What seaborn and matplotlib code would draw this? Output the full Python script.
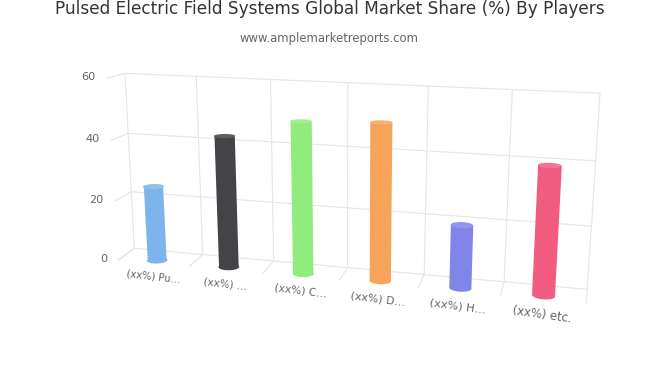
import numpy as np
import pandas as pd
import matplotlib
matplotlib.use("Agg")
import matplotlib.pyplot as plt
from matplotlib.colors import to_rgb
from matplotlib.transforms import Transform
import seaborn as sns

# ---- data ----
labels = ["(xx%) Pu…", "(xx%) …", "(xx%) C…", "(xx%) D…", "(xx%) H…", "(xx%) etc."]
shares = [25, 43, 49, 50, 20, 40]
colors = ["#7cb5ec", "#434348", "#90ed7d", "#f7a35c", "#8085e9", "#f15c80"]
y_ticks = [0, 20, 40, 60]
title = "Pulsed Electric Field Systems Global Market Share (%) By Players"
subtitle = "www.amplemarketreports.com"

# ---- camera: plot box corners in image pixels ----
U_MAX, V_MAX = 6.0, 60.0
BACK = [(134.3, 248.3), (587.3, 289.3), (600.0, 93.3), (125.0, 73.3)]
FRONT = [(118.3, 260.0), (586.0, 303.0), (598.0, 101.0), (107.0, 78.0)]
BAR_DEPTH = 0.75
CAP_DEPTH = 0.27
BAR_WIDTH = 0.27


def homography(dst):
    src = [(0, 0), (U_MAX, 0), (U_MAX, V_MAX), (0, V_MAX)]
    A, b = [], []
    for (s, t), (x, y) in zip(src, dst):
        A.append([s, t, 1, 0, 0, 0, -s * x, -t * x]); b.append(x)
        A.append([0, 0, 0, s, t, 1, -s * y, -t * y]); b.append(y)
    return np.append(np.linalg.solve(np.array(A, float), np.array(b, float)), 1).reshape(3, 3)


H_BACK, H_FRONT = homography(BACK), homography(FRONT)


def _apply(H, u, v):
    q = H @ np.vstack([u, v, np.ones_like(u)])
    return q[0] / q[2], q[1] / q[2]


def project(u, v, w):
    u, v = np.broadcast_arrays(np.atleast_1d(np.asarray(u, float)), np.atleast_1d(np.asarray(v, float)))
    bx, by = _apply(H_BACK, u, v)
    fx, fy = _apply(H_FRONT, u, v)
    return bx + (fx - bx) * w, by + (fy - by) * w


class DepthPlane(Transform):
    """Category position + value -> image pixels on the plane at depth w."""
    input_dims = output_dims = 2
    is_separable = False
    has_inverse = False

    def __init__(self, w):
        super().__init__()
        self.w = w

    def transform_non_affine(self, values):
        values = np.asarray(values, float)
        x, y = project(values[:, 0] + 0.5, values[:, 1], self.w)
        return np.column_stack([x, y])


def lighter(c, f):
    r = np.array(to_rgb(c))
    return tuple(r + (1 - r) * f)


# ---- figure ----
sns.set_theme(style="white")
plt.rcParams["font.family"] = ["DejaVu Sans"]
fig = plt.figure(figsize=(6.6, 3.8), dpi=100, facecolor="white")
ax = fig.add_axes([0, 0, 1, 1])

df = pd.DataFrame({"label": labels, "share": shares})
sns.barplot(data=df, x="label", y="share", hue="label", palette=colors, hue_order=labels,
            order=labels, width=BAR_WIDTH, saturation=1, legend=False, ax=ax)
ax.set_xlim(0, 660)
ax.set_ylim(380, 0)
ax.set_axis_off()

# ---- walls ----
GRID = "#e6e6e6"
grid_kw = dict(color=GRID, lw=0.85, zorder=0.5, solid_capstyle="round", snap=False)
for v in y_ticks:
    vs = np.array([v, v], float)
    ax.plot(*project([0, U_MAX], vs, 0), **grid_kw)
    ax.plot(*project([0, 0], vs, [0, 1]), **grid_kw)
for u in range(int(U_MAX) + 1):
    ax.plot(*project([u, u], [0, V_MAX], 0), **grid_kw)
    ax.plot(*project([u, u], [0, 0], [0, 1]), **grid_kw)

# ---- cylinders from the seaborn bars ----
t = np.linspace(0, 2 * np.pi, 80)
plane = DepthPlane(BAR_DEPTH) + ax.transData
for bar in ax.patches:
    c = bar.get_facecolor()
    bar.set_transform(plane)
    bar.set_zorder(3)
    bar.set_edgecolor("none")
    bar.set_linewidth(0)
    bar.set_snap(False)
    bar.set_clip_on(False)
    u0 = bar.get_x() + bar.get_width() / 2 + 0.5
    r = bar.get_width() / 2
    eu = u0 + r * np.cos(t)
    ew = BAR_DEPTH + CAP_DEPTH * np.sin(t)
    px, py = project(eu, np.zeros_like(t), ew)
    ax.fill(px, py, color=c[:3], lw=0, zorder=2.5)
    px, py = project(eu, np.full_like(t, bar.get_height()), ew)
    ax.fill(px, py, color=lighter(c[:3], 0.14), lw=0, zorder=4)

# ---- text ----
for v in y_ticks:
    x, y = project([0], [v], 1)
    ax.text(x[0] - 11, y[0] - 1.5, str(v), ha="right", va="center", fontsize=8.2, color="#666666")

for i, lab in enumerate(labels):
    x, y = project([i + 0.5], [0], 1)
    ax.text(x[0] - i * 0.25, y[0] + 13.5 + i * 0.5, lab, ha="center", va="center",
            rotation=-(6.6 + i * 0.3), rotation_mode="anchor",
            fontsize=7.2 + i * 0.24, color="#666666")

fig.text(329.5 / 660, 1 - 14 / 380, title, ha="center", va="baseline", fontsize=12.2, color="#333333")
fig.text(329 / 660, 1 - 42 / 380, subtitle, ha="center", va="baseline", fontsize=8.4, color="#666666")

fig.savefig("out.png", dpi=100, facecolor="white")
